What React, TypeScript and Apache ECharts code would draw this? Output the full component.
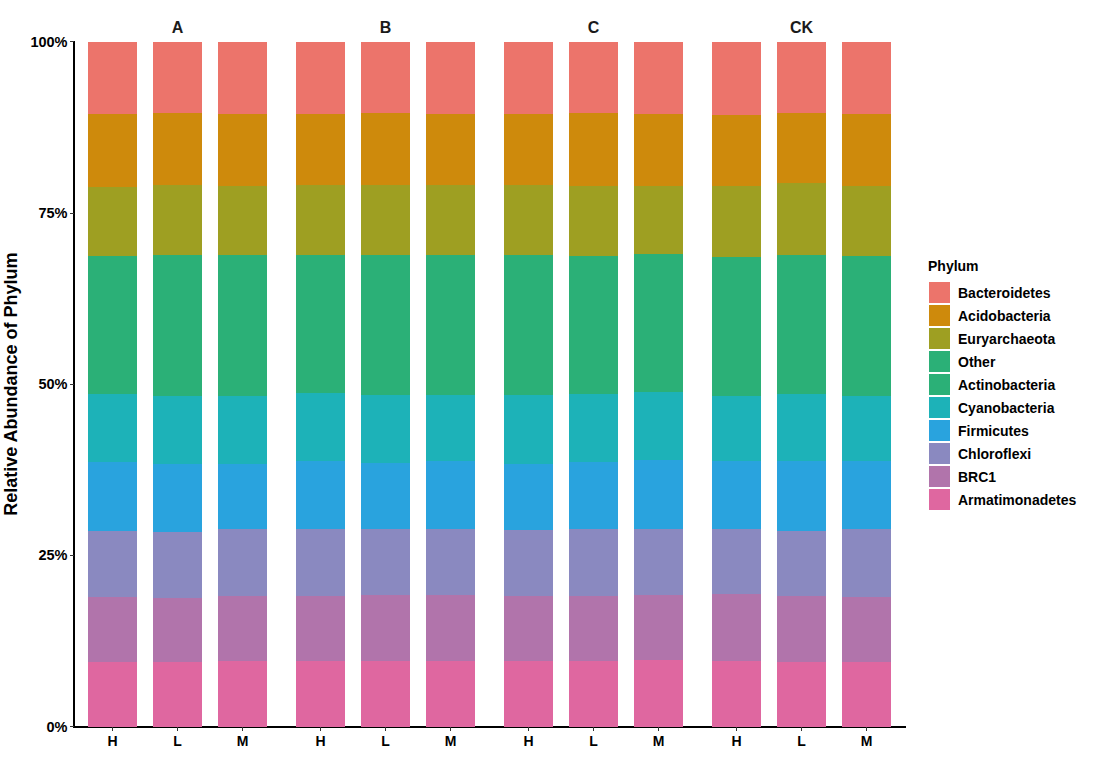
import React, { useEffect, useRef } from "react";
import * as echarts from "echarts";

const facets = ["A", "B", "C", "CK"];
const levels = ["H", "L", "M"];
const phyla = [
  "Bacteroidetes",
  "Acidobacteria",
  "Euryarchaeota",
  "Other",
  "Actinobacteria",
  "Cyanobacteria",
  "Firmicutes",
  "Chloroflexi",
  "BRC1",
  "Armatimonadetes",
];
const phylaColors = [
  "#EC746B",
  "#CE8A0C",
  "#9E9F22",
  "#2BB077",
  "#2BB077",
  "#1DB2B8",
  "#29A3DE",
  "#8A89C0",
  "#B174AB",
  "#DF67A0",
];

// order of bars: A-H, A-L, A-M, B-H, B-L, B-M, C-H, C-L, C-M, CK-H, CK-L, CK-M  (percent)
const bacteroidetes = [10.5, 10.4, 10.6, 10.6, 10.4, 10.6, 10.6, 10.4, 10.5, 10.7, 10.4, 10.5];
const acidobacteria = [10.7, 10.5, 10.4, 10.3, 10.5, 10.3, 10.3, 10.6, 10.5, 10.4, 10.3, 10.5];
const euryarchaeota = [10.1, 10.3, 10.1, 10.3, 10.2, 10.3, 10.2, 10.3, 10.0, 10.4, 10.4, 10.3];
const other = [10.1, 10.3, 10.3, 10.0, 10.3, 10.2, 10.3, 10.1, 10.1, 10.1, 10.1, 10.2];
const actinobacteria = [10.1, 10.2, 10.3, 10.1, 10.2, 10.2, 10.2, 10.0, 10.0, 10.1, 10.2, 10.2];
const cyanobacteria = [9.9, 9.9, 9.9, 9.9, 9.9, 9.7, 10.0, 10.0, 10.0, 9.6, 9.9, 9.6];
const firmicutes = [10.0, 10.0, 9.6, 10.0, 9.7, 9.9, 9.7, 9.7, 10.0, 9.8, 10.1, 9.8];
const chloroflexi = [9.7, 9.6, 9.7, 9.7, 9.6, 9.6, 9.6, 9.8, 9.7, 9.5, 9.5, 10.0];
const brc1 = [9.5, 9.4, 9.5, 9.6, 9.6, 9.7, 9.5, 9.6, 9.5, 9.8, 9.7, 9.5];
const armatimonadetes = [9.4, 9.4, 9.6, 9.5, 9.6, 9.5, 9.6, 9.5, 9.7, 9.6, 9.4, 9.4];

const seriesValues = [
  bacteroidetes,
  acidobacteria,
  euryarchaeota,
  other,
  actinobacteria,
  cyanobacteria,
  firmicutes,
  chloroflexi,
  brc1,
  armatimonadetes,
];

const yTicks = [0, 25, 50, 75, 100];

// layout
const W = 1103;
const H = 761;
const gridLeft = 73.5;
const gridRight = 905.5;
const gridTop = 41.7;
const gridBottom = 726.5;
const PANEL = 3.2; // units per facet (3 bars + 0.6 expansion each side)

export default function App() {
  const ref = useRef<HTMLDivElement>(null);
  useEffect(() => {
    if (!ref.current) return;
    const chart = echarts.init(ref.current, null, { renderer: "svg" });
    const unit = (gridRight - gridLeft) / (PANEL * facets.length);
    const font = "Liberation Sans, Arial, sans-serif";
    const labelStyle = { color: "#000", fontWeight: "bold" as const, fontFamily: font };
    const frame = { top: gridTop, bottom: H - gridBottom, containLabel: false, outerBoundsMode: "none" };

    const grids: any[] = [{ ...frame, left: gridLeft, width: gridRight - gridLeft }];
    const xAxes: any[] = [
      {
        type: "value",
        gridIndex: 0,
        min: 0,
        max: 1,
        splitLine: { show: false },
        axisLabel: { show: false },
        axisTick: { show: false },
        axisLine: { show: true, onZero: false, lineStyle: { color: "#000", width: 1.5 } },
      },
    ];
    const yAxes: any[] = [
      {
        type: "value",
        gridIndex: 0,
        min: 0,
        max: 100,
        interval: 25,
        name: "Relative Abundance of Phylum",
        nameLocation: "middle",
        nameRotate: 90,
        nameGap: 48,
        nameTextStyle: { ...labelStyle, fontSize: 18 },
        splitLine: { show: false },
        axisLine: { show: true, onZero: false, lineStyle: { color: "#000", width: 1.5 } },
        axisTick: { show: true, length: 4, lineStyle: { color: "#333", width: 1.2 } },
        axisLabel: {
          ...labelStyle,
          fontSize: 14.5,
          margin: 6,
          formatter: (v: number) => (yTicks.includes(v) ? `${v}%` : ""),
        },
      },
    ];

    facets.forEach((_, p) => {
      const panelStart = gridLeft + p * PANEL * unit;
      grids.push({ ...frame, left: panelStart + 0.1 * unit, width: 3 * unit });
      xAxes.push({
        type: "category",
        gridIndex: p + 1,
        data: levels,
        boundaryGap: true,
        axisLine: { show: false },
        axisTick: {
          show: true,
          alignWithLabel: true,
          length: 4,
          lineStyle: { color: "#333", width: 1.2 },
        },
        axisLabel: { ...labelStyle, fontSize: 14, margin: 7 },
      });
      yAxes.push({
        type: "value",
        gridIndex: p + 1,
        min: 0,
        max: 100,
        show: false,
        splitLine: { show: false },
      });
    });

    const order = phyla.map((_, k) => phyla.length - 1 - k);
    const series: any[] = [];
    facets.forEach((_, p) => {
      order.forEach((k) => {
        series.push({
          name: phyla[k],
          type: "bar",
          stack: "total" + p,
          xAxisIndex: p + 1,
          yAxisIndex: p + 1,
          barWidth: 0.75 * unit,
          itemStyle: { color: phylaColors[k] },
          emphasis: { disabled: true },
          data: seriesValues[k].slice(p * 3, p * 3 + 3),
        });
      });
    });

    const facetTitles = facets.map((f, p) => ({
      type: "text",
      x: gridLeft + (p + 0.5) * PANEL * unit,
      y: 27,
      style: {
        text: f,
        fill: "#1a1a1a",
        font: `bold 16px ${font}`,
        textAlign: "center",
        textVerticalAlign: "middle",
      },
    }));

    chart.setOption({
      animation: false,
      backgroundColor: "#ffffff",
      grid: grids,
      xAxis: xAxes,
      yAxis: yAxes,
      legend: {
        orient: "vertical",
        left: 929,
        top: 282,
        padding: 0,
        itemWidth: 21,
        itemHeight: 21,
        itemGap: 2,
        icon: "rect",
        data: phyla,
        selectedMode: false,
        textStyle: {
          ...labelStyle,
          fontSize: 14,
          padding: [0, 0, 0, 3],
        },
      },
      graphic: [
        ...facetTitles,
        {
          type: "text",
          x: 928,
          y: 266,
          style: {
            text: "Phylum",
            fill: "#000",
            font: `bold 14px ${font}`,
            textAlign: "left",
            textVerticalAlign: "middle",
          },
        },
      ],
      series,
    });
    return () => chart.dispose();
  }, []);
  return (
    <>
      <style>{`.phylum-chart svg path { shape-rendering: crispEdges; }`}</style>
      <div
        ref={ref}
        className="phylum-chart"
        style={{ position: "fixed", left: 0, top: 0, width: W, height: H, background: "#fff" }}
      />
    </>
  );
}
